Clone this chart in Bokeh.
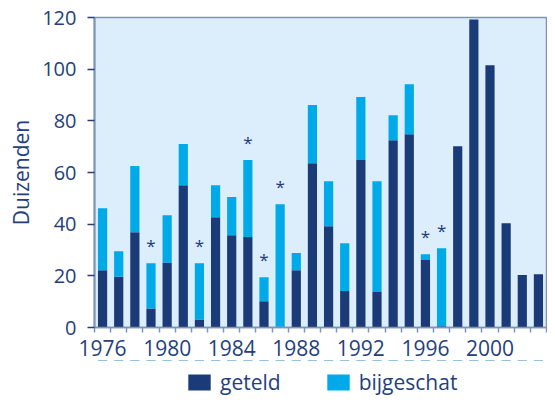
from bokeh.plotting import figure
from bokeh.layouts import column
from bokeh.models import ColumnDataSource, FixedTicker, Legend, LegendItem, Range1d
from bokeh.embed import file_html
from bokeh.resources import INLINE
from bokeh.core.properties import value

years = list(range(1976, 2004))
geteld = [22.2, 19.6, 36.9, 7.4, 25.2, 55.1, 3.1, 42.7, 35.7, 35.0, 10.2, 0.3, 22.2, 63.6,
          39.2, 14.1, 64.8, 13.7, 72.5, 74.8, 26.1, 0.5, 70.2, 119.2, 101.5, 40.4, 20.3, 20.6]
bijgeschat = [24.0, 9.9, 25.6, 17.5, 18.3, 15.9, 21.8, 12.4, 14.8, 29.8, 9.3, 47.4, 6.6, 22.5,
              17.4, 18.5, 24.4, 42.9, 9.7, 19.4, 2.3, 30.2, 0, 0, 0, 0, 0, 0]
asterisk_years = [1979, 1982, 1985, 1986, 1987, 1996, 1997]
year_labels = [1976, 1980, 1984, 1988, 1992, 1996, 2000]
y_ticks = [0, 20, 40, 60, 80, 100, 120]
series = ["geteld", "bijgeschat"]

DARK = "#1B3A78"
LIGHT = "#00AAE8"
BG = "#DCEEFB"
AXIS = "#7F92B8"
TEXT = "#243F7C"
FONT = "Open Sans"

src = ColumnDataSource(dict(year=years, geteld=geteld, bijgeschat=bijgeschat))

p = figure(width=547, height=360, output_backend="svg", toolbar_location=None,
           x_range=Range1d(years[0] - 0.5, years[-1] + 0.5), y_range=Range1d(0, 120),
           min_border_left=94, min_border_right=1, min_border_top=17, min_border_bottom=33)
p.background_fill_color = BG
p.border_fill_color = "white"
p.outline_line_color = AXIS
p.outline_line_width = 1.5
p.grid.visible = False

p.vbar_stack(series, x="year", width=0.57, color=[DARK, LIGHT], line_color=None, source=src)

tot = {y: g + b for y, g, b in zip(years, geteld, bijgeschat)}
ast_src = ColumnDataSource(dict(x=asterisk_years, y=[tot[y] for y in asterisk_years],
                                t=["*"] * len(asterisk_years)))
p.text(x="x", y="y", text="t", source=ast_src, text_align="center", text_baseline="alphabetic",
       y_offset=-18, text_color=DARK, text_font=value(FONT), text_font_size="17px")

xa = p.xaxis[0]
xa.ticker = FixedTicker(ticks=year_labels, minor_ticks=[y - 0.5 for y in years] + [years[-1] + 0.5])
xa.major_tick_out = 0
xa.major_tick_in = 0
xa.minor_tick_out = 5
xa.minor_tick_in = 0
xa.axis_line_color = AXIS
xa.axis_line_width = 1.5
xa.minor_tick_line_color = AXIS
xa.minor_tick_line_width = 1.5
xa.major_label_standoff = 7
xa.major_label_text_font = FONT
xa.major_label_text_font_size = "21px"
xa.major_label_text_color = TEXT

ya = p.yaxis[0]
ya.ticker = FixedTicker(ticks=y_ticks)
ya.minor_tick_line_color = None
ya.major_tick_out = 7
ya.major_tick_in = 0
ya.major_tick_line_color = TEXT
ya.major_tick_line_width = 1.5
ya.axis_line_color = AXIS
ya.axis_line_width = 2
ya.major_label_standoff = 11
ya.major_label_text_font = FONT
ya.major_label_text_font_size = "20px"
ya.major_label_text_color = TEXT
ya.axis_label = "Duizenden"
ya.axis_label_text_font = FONT
ya.axis_label_text_font_size = "21px"
ya.axis_label_text_font_style = "normal"
ya.axis_label_text_color = TEXT
ya.axis_label_standoff = 4

# legend strip below the chart (its frame is aligned with the chart frame);
# its bars fall outside its y range, so only the legend swatches show
lf = figure(width=547, height=35, output_backend="svg", toolbar_location=None,
            x_range=p.x_range, y_range=Range1d(-2, -1),
            min_border_left=0, min_border_right=0, min_border_top=0, min_border_bottom=0)
lf.axis.visible = False
lf.grid.visible = False
lf.outline_line_color = None
lf.background_fill_color = "white"
lf.border_fill_color = "white"
lrs = lf.vbar_stack(series, x="year", width=0.57, color=[DARK, LIGHT], line_color=None, source=src)

legend = Legend(items=[LegendItem(label=s, renderers=[r]) for s, r in zip(series, lrs)],
                orientation="horizontal", location=(91, -1),
                glyph_width=28, glyph_height=20, label_text_font=FONT,
                label_text_font_size="21px", label_text_color=TEXT,
                label_standoff=7, spacing=43, padding=0, margin=0,
                border_line_color=None, background_fill_alpha=0)
lf.add_layout(legend, "center")

layout = column(p, lf, spacing=0)
open("out.html", "w").write(file_html(layout, INLINE))
